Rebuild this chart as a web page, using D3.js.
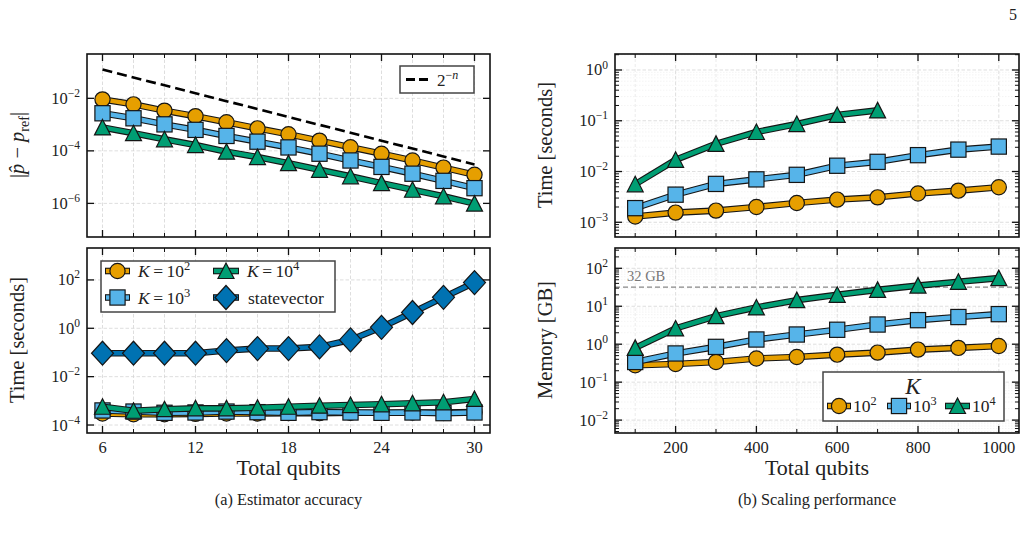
<!DOCTYPE html>
<html><head><meta charset="utf-8">
<script src="https://cdn.jsdelivr.net/npm/d3@7"></script>
<style>
body{margin:0;background:#fff}
svg{display:block}
text{font-family:'Liberation Serif','DejaVu Serif',serif;fill:#222}
</style>
</head><body><svg id="c" width="1026" height="535"></svg>
<script>
// ---------- data ----------
const qubitsA = [6, 8, 10, 12, 14, 16, 18, 20, 22, 24, 26, 28, 30];
const refScaling = [1.25e-1, 6.25e-2, 3.125e-2, 1.5625e-2, 7.8125e-3, 3.90625e-3, 1.953125e-3, 9.765625e-4, 4.8828125e-4, 2.44140625e-4, 1.220703125e-4, 6.103515625e-5, 3.0517578125e-5];
const errK2 = [9.1e-3, 5.9e-3, 3.4e-3, 2.1e-3, 1.23e-3, 7.2e-4, 4.3e-4, 2.45e-4, 1.38e-4, 7.8e-5, 4.3e-5, 2.3e-5, 1.23e-5];
const errK3 = [2.7e-3, 1.74e-3, 1.02e-3, 6.3e-4, 3.7e-4, 2.24e-4, 1.35e-4, 7.8e-5, 4.3e-5, 2.45e-5, 1.35e-5, 7.2e-6, 3.8e-6];
const errK4 = [7.8e-4, 4.7e-4, 2.75e-4, 1.66e-4, 9.3e-5, 5.8e-5, 3.4e-5, 1.9e-5, 1.07e-5, 5.9e-6, 3.3e-6, 1.86e-6, 9.8e-7];
const timeK2A = [3.0e-4, 2.8e-4, 2.8e-4, 2.9e-4, 3.0e-4, 3.0e-4, 3.1e-4, 3.1e-4, 3.2e-4, 3.2e-4, 3.3e-4, 3.3e-4, 3.4e-4];
const timeK3A = [4.0e-4, 3.6e-4, 3.2e-4, 3.3e-4, 3.6e-4, 3.4e-4, 3.2e-4, 3.4e-4, 3.3e-4, 3.2e-4, 3.3e-4, 3.1e-4, 3.3e-4];
const timeK4A = [5.7e-4, 3.9e-4, 4.5e-4, 4.9e-4, 4.9e-4, 5.2e-4, 5.7e-4, 6.3e-4, 6.7e-4, 7.2e-4, 7.9e-4, 8.7e-4, 1.2e-3];
const timeStatevector = [0.093, 0.093, 0.093, 0.093, 0.12, 0.145, 0.145, 0.17, 0.33, 1.1, 4.5, 19, 78];

const qubitsB = [100, 200, 300, 400, 500, 600, 700, 800, 900, 1000];
const timeK2B = [1.3e-3, 1.55e-3, 1.7e-3, 2.0e-3, 2.4e-3, 2.8e-3, 3.1e-3, 3.7e-3, 4.2e-3, 4.9e-3];
const timeK3B = [1.9e-3, 3.5e-3, 5.7e-3, 7.0e-3, 8.6e-3, 1.3e-2, 1.55e-2, 2.1e-2, 2.7e-2, 3.1e-2];
const timeK4B = [5.6e-3, 1.7e-2, 3.5e-2, 6.0e-2, 8.6e-2, 1.3e-1, 1.6e-1];
const memK2 = [0.28, 0.30, 0.34, 0.42, 0.46, 0.53, 0.60, 0.72, 0.80, 0.90];
const memK3 = [0.34, 0.57, 0.85, 1.33, 1.8, 2.4, 3.3, 4.3, 5.2, 6.2];
const memK4 = [0.8, 2.6, 5.5, 9.3, 14.5, 20, 27, 35, 44, 55];
const memLimitGB = 32;

const xTicksA = [6, 12, 18, 24, 30];
const xTicksB = [200, 400, 600, 800, 1000];

const C = {k2: '#E69F00', k3: '#56B4E9', k4: '#009E73', sv: '#0072B2'};

// ---------- helpers ----------
const svg = d3.select('#c');
const EDGE = '#151515';
const TICKFS = 16.5;

function supText(g, x, y, base, exp, anchor, size) {
  const t = g.append('text').attr('x', x).attr('y', y).attr('text-anchor', anchor || 'start')
    .style('font-size', size + 'px');
  t.append('tspan').text(base);
  t.append('tspan').attr('dy', -size * 0.42).style('font-size', (size * 0.7) + 'px').text(exp);
  return t;
}

function marker(g, type, cx, cy, color) {
  let el;
  if (type === 'circle') el = g.append('circle').attr('cx', cx).attr('cy', cy).attr('r', 7.6);
  else if (type === 'square') el = g.append('rect').attr('x', cx - 7.6).attr('y', cy - 7.6).attr('width', 15.2).attr('height', 15.2);
  else if (type === 'triangle') el = g.append('path').attr('d', `M${cx},${cy - 8}L${cx + 8},${cy + 7.5}L${cx - 8},${cy + 7.5}Z`);
  else el = g.append('path').attr('d', `M${cx},${cy - 12}L${cx + 11},${cy}L${cx},${cy + 12}L${cx - 11},${cy}Z`);
  el.attr('fill', color).attr('stroke', EDGE).attr('stroke-width', 1.2).attr('stroke-linejoin', 'miter');
}

function series(g, x, y, xs, ys, type, color) {
  const pts = ys.map((v, i) => [xs[i], v]);
  const line = d3.line().x(d => x(d[0])).y(d => y(d[1]));
  g.append('path').attr('d', line(pts)).attr('fill', 'none').attr('stroke', EDGE).attr('stroke-width', 6.6).attr('stroke-linejoin', 'round');
  g.append('path').attr('d', line(pts)).attr('fill', 'none').attr('stroke', color).attr('stroke-width', 4.4).attr('stroke-linejoin', 'round');
  pts.forEach(d => marker(g, type, x(d[0]), y(d[1]), color));
}

function legendHandle(g, x0, x1, y, type, color) {
  g.append('line').attr('x1', x0).attr('x2', x1).attr('y1', y).attr('y2', y).attr('stroke', EDGE).attr('stroke-width', 6.6);
  g.append('line').attr('x1', x0 + 1).attr('x2', x1 - 1).attr('y1', y).attr('y2', y).attr('stroke', color).attr('stroke-width', 4.4);
  marker(g, type, (x0 + x1) / 2, y, color);
}

function panel(o) {
  const g = svg.append('g');
  const x = d3.scaleLinear().domain(o.xDomain).range([o.left, o.right]);
  const y = d3.scaleLog().domain(o.yDomain).range([o.bottom, o.top]);
  const clipId = 'clip' + Math.round(o.left) + Math.round(o.top);
  svg.append('clipPath').attr('id', clipId).append('rect')
    .attr('x', o.left).attr('y', o.top).attr('width', o.right - o.left).attr('height', o.bottom - o.top);
  const grid = g.append('g').attr('clip-path', `url(#${clipId})`);
  (o.yMinorGrid || []).forEach(v => grid.append('line').attr('x1', o.left).attr('x2', o.right).attr('y1', y(v)).attr('y2', y(v))
    .attr('stroke', '#ececec').attr('stroke-width', 0.6).attr('stroke-dasharray', '1.5,1.5'));
  (o.xMinorGrid || []).forEach(v => grid.append('line').attr('y1', o.top).attr('y2', o.bottom).attr('x1', x(v)).attr('x2', x(v))
    .attr('stroke', '#e2e2e2').attr('stroke-width', 0.7).attr('stroke-dasharray', '3,2'));
  (o.yGrid || []).forEach(v => grid.append('line').attr('x1', o.left).attr('x2', o.right).attr('y1', y(v)).attr('y2', y(v))
    .attr('stroke', '#d6d6d6').attr('stroke-width', 0.8).attr('stroke-dasharray', '3.5,2'));
  (o.xGrid || []).forEach(v => grid.append('line').attr('y1', o.top).attr('y2', o.bottom).attr('x1', x(v)).attr('x2', x(v))
    .attr('stroke', '#d6d6d6').attr('stroke-width', 0.8).attr('stroke-dasharray', '3.5,2'));
  const data = g.append('g').attr('clip-path', `url(#${clipId})`);
  const ticks = g.append('g').attr('stroke', '#111');
  const tk = (x1, y1, x2, y2, w) => ticks.append('line').attr('x1', x1).attr('y1', y1).attr('x2', x2).attr('y2', y2).attr('stroke-width', w);
  (o.xMinor || []).forEach(v => { tk(x(v), o.bottom, x(v), o.bottom - 4, 1); tk(x(v), o.top, x(v), o.top + 4, 1); });
  o.xMajor.forEach(v => { tk(x(v), o.bottom, x(v), o.bottom - 7, 1.3); tk(x(v), o.top, x(v), o.top + 7, 1.3); });
  (o.yMinor || []).forEach(v => { tk(o.left, y(v), o.left + 4, y(v), 1); tk(o.right, y(v), o.right - 4, y(v), 1); });
  o.yMajor.forEach(v => { tk(o.left, y(v), o.left + 7, y(v), 1.3); tk(o.right, y(v), o.right - 7, y(v), 1.3); });
  if (o.xLabels) o.xMajor.forEach(v => g.append('text').attr('x', x(v)).attr('y', o.bottom + 20).attr('text-anchor', 'middle').style('font-size', TICKFS + 'px').text(v));
  o.yMajor.forEach(v => {
    const e = Math.round(Math.log10(v));
    supText(g, o.left - 7, y(v) + 5.5, '10', (e < 0 ? '\u2212' : '') + Math.abs(e), 'end', TICKFS);
  });
  return {g, data, x, y, top: g.append('g'), frame: () => g.append('rect').attr('x', o.left).attr('y', o.top)
    .attr('width', o.right - o.left).attr('height', o.bottom - o.top).attr('fill', 'none').attr('stroke', '#111').attr('stroke-width', 1.6)};
}

function decades(a, b) { const r = []; for (let e = a; e <= b; e++) r.push(Math.pow(10, e)); return r; }
function minors(a, b) { const r = []; for (let e = a; e <= b; e++) for (let k = 2; k <= 9; k++) r.push(k * Math.pow(10, e)); return r; }

const LX0 = 87, LX1 = 490, RX0 = 615, RX1 = 1019;
const TY0 = 54, TY1 = 237, BY0 = 248, BY1 = 433;
const evenA = d3.range(6, 31, 2);
const AXFS = 20.5;

// ---------- panel (a) top: accuracy ----------
const pA1 = panel({left: LX0, right: LX1, top: TY0, bottom: TY1, xDomain: [5, 31], yDomain: [Math.pow(10, -7.28), Math.pow(10, -0.312)],
  xMajor: xTicksA, xMinor: evenA.filter(v => v % 6 !== 0), yMajor: [1e-2, 1e-4, 1e-6],
  xGrid: evenA, yGrid: [1e-2, 1e-4, 1e-6]});
pA1.data.append('path').attr('d', d3.line().x((d, i) => pA1.x(qubitsA[i])).y(d => pA1.y(d))(refScaling))
  .attr('fill', 'none').attr('stroke', '#000').attr('stroke-width', 2.6).attr('stroke-dasharray', '10,5');
series(pA1.data, pA1.x, pA1.y, qubitsA, errK2, 'circle', C.k2);
series(pA1.data, pA1.x, pA1.y, qubitsA, errK3, 'square', C.k3);
series(pA1.data, pA1.x, pA1.y, qubitsA, errK4, 'triangle', C.k4);
pA1.frame();
{
  const lg = pA1.top;
  lg.append('rect').attr('x', 400).attr('y', 66).attr('width', 74).attr('height', 27).attr('fill', '#fff').attr('stroke', '#444').attr('stroke-width', 1.5);
  lg.append('line').attr('x1', 406).attr('x2', 431).attr('y1', 79.5).attr('y2', 79.5).attr('stroke', '#000').attr('stroke-width', 3).attr('stroke-dasharray', '9,4');
  const t = lg.append('text').attr('x', 437).attr('y', 86).style('font-size', '17px');
  t.append('tspan').text('2');
  t.append('tspan').attr('dy', -7).style('font-size', '12px').text('\u2212');
  t.append('tspan').style('font-size', '12px').style('font-style', 'italic').text('n');
}
{
  const t = svg.append('text').attr('transform', 'translate(24,145) rotate(-90)').attr('text-anchor', 'middle').style('font-size', AXFS + 'px');
  t.append('tspan').text('|');
  t.append('tspan').style('font-style', 'italic').text('p\u0302');
  t.append('tspan').text(' \u2212 ');
  t.append('tspan').style('font-style', 'italic').text('p');
  t.append('tspan').attr('dy', 4.5).style('font-size', '14px').text('ref');
  t.append('tspan').attr('dy', -4.5).text('|');
}

// ---------- panel (a) bottom: time ----------
const pA2 = panel({left: LX0, right: LX1, top: BY0, bottom: BY1, xDomain: [5, 31], yDomain: [Math.pow(10, -4.33), Math.pow(10, 3.32)],
  xMajor: xTicksA, xMinor: evenA.filter(v => v % 6 !== 0), yMajor: [1e2, 1, 1e-2, 1e-4], xLabels: true,
  xGrid: evenA, yGrid: [1e2, 1, 1e-2, 1e-4]});
series(pA2.data, pA2.x, pA2.y, qubitsA, timeK2A, 'circle', C.k2);
series(pA2.data, pA2.x, pA2.y, qubitsA, timeK3A, 'square', C.k3);
series(pA2.data, pA2.x, pA2.y, qubitsA, timeK4A, 'triangle', C.k4);
series(pA2.data, pA2.x, pA2.y, qubitsA, timeStatevector, 'diamond', C.sv);
pA2.frame();
{
  const lg = pA2.top;
  lg.append('rect').attr('x', 101).attr('y', 261).attr('width', 234).attr('height', 51).attr('fill', '#fff').attr('stroke', '#444').attr('stroke-width', 1.5);
  const rows = [[105, 130, 271, 'circle', C.k2, '2'], [105, 130, 297.5, 'square', C.k3, '3'], [213, 239, 271, 'triangle', C.k4, '4']];
  rows.forEach(r => {
    legendHandle(lg, r[0], r[1], r[2], r[3], r[4]);
    const t = lg.append('text').attr('x', r[1] + 8).attr('y', r[2] + 6).style('font-size', '17.5px');
    t.append('tspan').style('font-style', 'italic').text('K');
    t.append('tspan').text('\u2009=\u200910');
    t.append('tspan').attr('dy', -7).style('font-size', '12.5px').text(r[5]);
  });
  legendHandle(lg, 213, 239, 297.5, 'diamond', C.sv);
  lg.append('text').attr('x', 248).attr('y', 303.5).style('font-size', '17.5px').text('statevector');
}
svg.append('text').attr('transform', 'translate(24,340) rotate(-90)').attr('text-anchor', 'middle').style('font-size', AXFS + 'px').text('Time [seconds]');
svg.append('text').attr('x', (LX0 + LX1) / 2).attr('y', 475).attr('text-anchor', 'middle').style('font-size', '22px').text('Total qubits');
svg.append('text').attr('x', (LX0 + LX1) / 2).attr('y', 505).attr('text-anchor', 'middle').style('font-size', '16.3px').text('(a) Estimator accuracy');

// ---------- panel (b) top: time ----------
const xGridB = d3.range(100, 1001, 100);
const pB1 = panel({left: RX0, right: RX1, top: TY0, bottom: TY1, xDomain: [50, 1050], yDomain: [Math.pow(10, -3.29), Math.pow(10, 0.315)],
  xMajor: xTicksB, xMinor: xGridB.filter(v => v % 200 !== 0), yMajor: decades(-3, 0), yMinor: minors(-4, 0).filter(v => v > Math.pow(10, -3.29) && v < Math.pow(10, 0.315)),
  xGrid: xTicksB, xMinorGrid: xGridB.filter(v => v % 200 !== 0), yGrid: decades(-3, 0), yMinorGrid: minors(-4, 0)});
series(pB1.data, pB1.x, pB1.y, qubitsB, timeK2B, 'circle', C.k2);
series(pB1.data, pB1.x, pB1.y, qubitsB, timeK3B, 'square', C.k3);
series(pB1.data, pB1.x, pB1.y, qubitsB.slice(0, timeK4B.length), timeK4B, 'triangle', C.k4);
pB1.frame();
svg.append('text').attr('transform', 'translate(552,145) rotate(-90)').attr('text-anchor', 'middle').style('font-size', AXFS + 'px').text('Time [seconds]');

// ---------- panel (b) bottom: memory ----------
const pB2 = panel({left: RX0, right: RX1, top: BY0, bottom: BY1, xDomain: [50, 1050], yDomain: [Math.pow(10, -2.34), Math.pow(10, 2.535)],
  xMajor: xTicksB, xMinor: xGridB.filter(v => v % 200 !== 0), yMajor: decades(-2, 2), yMinor: minors(-3, 2).filter(v => v > Math.pow(10, -2.34) && v < Math.pow(10, 2.535)), xLabels: true,
  xGrid: xTicksB, xMinorGrid: xGridB.filter(v => v % 200 !== 0), yGrid: decades(-2, 2), yMinorGrid: minors(-3, 2)});
pB2.data.append('line').attr('x1', RX0).attr('x2', RX1).attr('y1', pB2.y(memLimitGB)).attr('y2', pB2.y(memLimitGB))
  .attr('stroke', '#888').attr('stroke-width', 1.3).attr('stroke-dasharray', '5,3');
pB2.data.append('text').attr('x', RX0 + 12).attr('y', pB2.y(memLimitGB) - 6).style('font-size', '14.5px').style('fill', '#777').text('32 GB');
series(pB2.data, pB2.x, pB2.y, qubitsB, memK2, 'circle', C.k2);
series(pB2.data, pB2.x, pB2.y, qubitsB, memK3, 'square', C.k3);
series(pB2.data, pB2.x, pB2.y, qubitsB, memK4, 'triangle', C.k4);
pB2.frame();
{
  const lg = pB2.top;
  lg.append('rect').attr('x', 823).attr('y', 372).attr('width', 181).attr('height', 49).attr('fill', '#fff').attr('stroke', '#444').attr('stroke-width', 1.5);
  lg.append('text').attr('x', 913).attr('y', 394).attr('text-anchor', 'middle').style('font-size', '23px').style('font-style', 'italic').text('K');
  const ents = [[827, 851, 'circle', C.k2, '2'], [887, 911, 'square', C.k3, '3'], [945, 970, 'triangle', C.k4, '4']];
  ents.forEach(r => {
    legendHandle(lg, r[0], r[1], 406, r[2], r[3]);
    supText(lg, r[1] + 2, 412, '10', r[4], 'start', 17.5);
  });
}
svg.append('text').attr('transform', 'translate(552,340) rotate(-90)').attr('text-anchor', 'middle').style('font-size', AXFS + 'px').text('Memory [GB]');
svg.append('text').attr('x', (RX0 + RX1) / 2).attr('y', 475).attr('text-anchor', 'middle').style('font-size', '22px').text('Total qubits');
svg.append('text').attr('x', (RX0 + RX1) / 2).attr('y', 505).attr('text-anchor', 'middle').style('font-size', '16.3px').text('(b) Scaling performance');

svg.append('text').attr('x', 1017).attr('y', 20).attr('text-anchor', 'end').style('font-size', '16px').text('5');
</script>
</body></html>
